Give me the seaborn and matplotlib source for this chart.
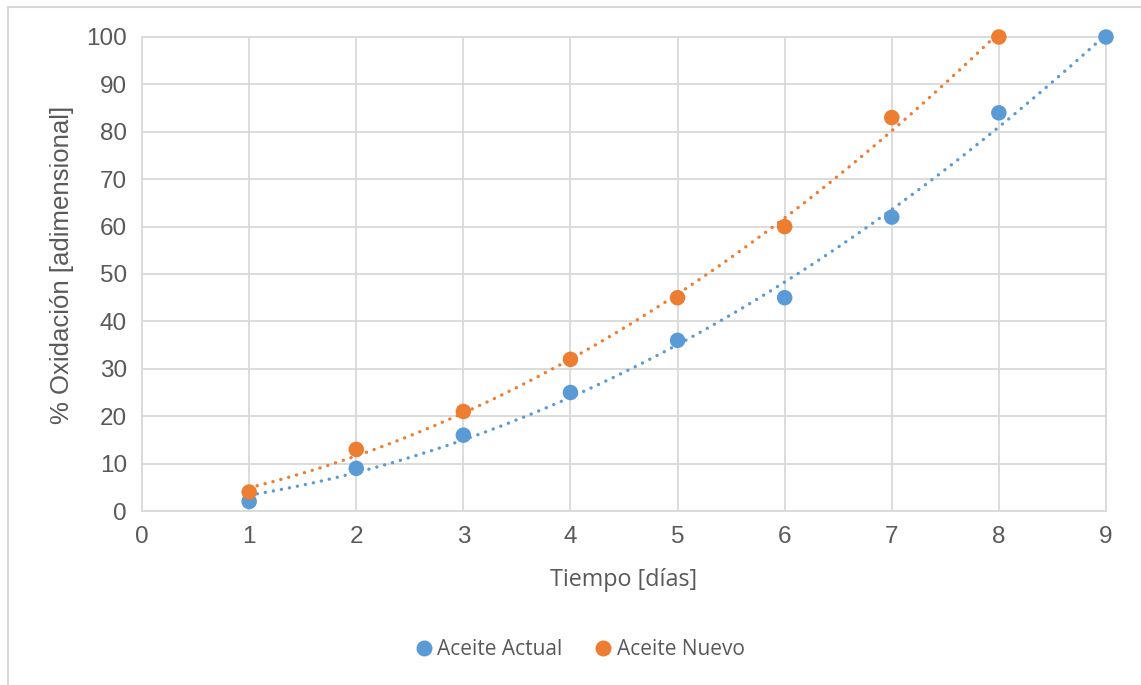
import numpy as np
import pandas as pd
import matplotlib
matplotlib.use("Agg")
import matplotlib.pyplot as plt
from matplotlib.patches import Rectangle
from matplotlib.lines import Line2D
import seaborn as sns

# Oxidation readings per day for each oil
dias_actual = [1, 2, 3, 4, 5, 6, 7, 8, 9]
oxid_actual = [2, 9, 16, 25, 36, 45, 62, 84, 100]
dias_nuevo = [1, 2, 3, 4, 5, 6, 7, 8]
oxid_nuevo = [4, 13, 21, 32, 45, 60, 83, 100]
series = ["Aceite Actual", "Aceite Nuevo"]
colores = ["#5B9BD5", "#ED7D31"]
x_ticks = list(range(0, 10))
y_ticks = list(range(0, 101, 10))

df = pd.concat([
    pd.DataFrame({"dia": dias_actual, "ox": oxid_actual, "serie": series[0]}),
    pd.DataFrame({"dia": dias_nuevo, "ox": oxid_nuevo, "serie": series[1]}),
])

sns.set_theme(style="white")
plt.rcParams["font.family"] = ["Liberation Sans", "DejaVu Sans"]
texto = "#595959"
rejilla = "#D9D9D9"

fig = plt.figure(figsize=(11.41, 6.85), dpi=100)
ax = fig.add_axes([0.1245, 0.254, 0.8448, 0.692])

# Quadratic trend lines (dotted)
for nombre, color in zip(series, colores):
    sub = df[df["serie"] == nombre]
    sns.regplot(data=sub, x="dia", y="ox", order=2, ci=None, scatter=False, ax=ax,
                truncate=True,
                line_kws=dict(color=color, lw=2.4, linestyle=(0, (0.05, 2.4)),
                              dash_capstyle="round", zorder=3))

sns.scatterplot(data=df, x="dia", y="ox", hue="serie", hue_order=series,
                palette=colores, s=125, edgecolor="none", ax=ax, zorder=4,
                legend=False, clip_on=False)

ax.set_xlim(0, 9)
ax.set_ylim(0, 100)
ax.set_xticks(x_ticks)
ax.set_yticks(y_ticks)
ax.grid(True, color=rejilla, lw=1.3)
ax.set_axisbelow(True)
for s in ax.spines.values():
    s.set_color(rejilla)
    s.set_linewidth(1.3)
ax.tick_params(axis="both", length=0, labelsize=17.5, labelcolor=texto, pad=11)

ax.set_xlabel("Tiempo [días]", fontsize=16.8, color=texto, labelpad=14,
              family=["Open Sans", "DejaVu Sans"])
ax.set_ylabel("% Oxidación [adimensional]", fontsize=18.5, color=texto,
              va="center")
ax.yaxis.set_label_coords(-0.083, 0.52)

handles = [Line2D([], [], marker="o", ls="none", color=c, markersize=11.5,
                  markeredgewidth=0) for c in colores]
leg = fig.legend(handles, series, loc="center", bbox_to_anchor=(0.505, 0.052),
                 ncol=2, frameon=False, handletextpad=-0.1, columnspacing=1.2,
                 handlelength=1.5,
                 prop={"family": ["Open Sans", "DejaVu Sans"], "size": 15})
for t in leg.get_texts():
    t.set_color(texto)

# Chart outline
fig.patches.append(Rectangle((8 / 1141, -0.05), 1.2, 1 - 7 / 685 + 0.05,
                             transform=fig.transFigure, fill=False,
                             edgecolor="#D9D9D9", lw=1.5))

fig.savefig("out.png", dpi=100)
